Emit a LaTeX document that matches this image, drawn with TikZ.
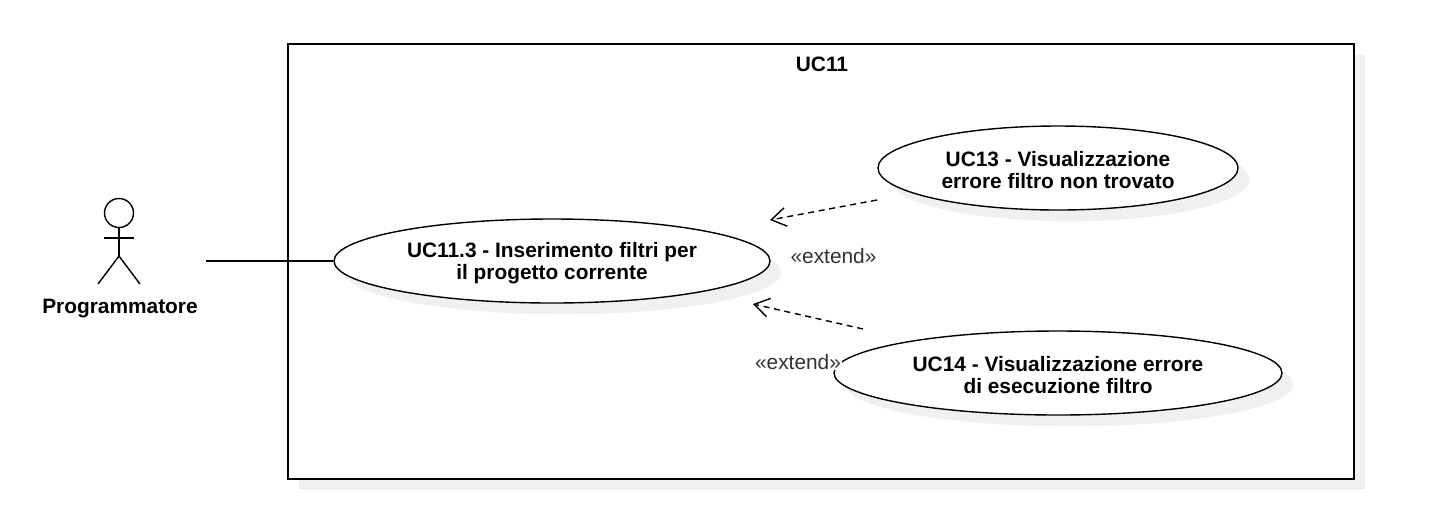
\documentclass[tikz,border=0pt]{standalone}
\usepackage{fontspec}
\setmainfont{Liberation Sans}
\usetikzlibrary{shapes.geometric,shadows,arrows.meta}
\newcommand{\firstline}{\rule{0pt}{14.6pt}}

\begin{document}
\begin{tikzpicture}[
    x=0.75pt, y=-0.75pt,
    every node/.style={font=\fontsize{15.65}{16.3}\selectfont},
    softshadow/.style={drop shadow={shadow xshift=8.5pt, shadow yshift=-8.5pt, fill=black!6, opacity=1}},
    usecase/.style={ellipse, draw, line width=1.05pt, fill=white, softshadow, inner sep=0pt, minimum height=63pt, align=center, font=\fontsize{15.65}{16.3}\selectfont\bfseries},
    extendlabel/.style={text=black!80, fill=white, inner sep=0.5pt},
    extendline/.style={line width=1.05pt, dash pattern=on 4.5pt off 3.5pt, -{Straight Barb[length=11pt, width=14pt, line width=1.05pt]}},
    actorline/.style={line width=1.05pt}
]
\useasboundingbox (0,0) rectangle (1452,526);

\node[draw, line width=1.05pt, fill=white, softshadow, minimum width=799.5pt, minimum height=326.25pt, inner sep=0pt] (system) at (821,261.5) {};
\node[font=\fontsize{15.65}{16.3}\selectfont\bfseries] (title) at (822,64) {UC11};

\node[usecase, minimum width=327pt] (filtri) at (552,261) {\firstline UC11.3 - Inserimento filtri per\\il progetto corrente};
\node[usecase, minimum width=270pt] (nontrovato) at (1058,168) {\firstline UC13 - Visualizzazione\\errore filtro non trovato};
\node[usecase, minimum width=336pt] (esecuzione) at (1058,373) {\firstline UC14 - Visualizzazione errore\\di esecuzione filtro};

% actor
\node[circle, draw, actorline, minimum size=21.75pt, inner sep=0pt] (head) at (119,213) {};
\coordinate (hip) at (119,256);
\coordinate (armleft) at (104,238);
\coordinate (armright) at (134,238);
\coordinate (legleft) at (98,284);
\coordinate (legright) at (140,284);
\draw[actorline] (head.south) -- (hip);
\draw[actorline] (armleft) -- (armright);
\draw[actorline] (legleft) -- (hip) -- (legright);
\node[font=\fontsize{15.65}{16.3}\selectfont\bfseries] (programmatore) at (120,308.5) {Programmatore};

\coordinate (actorend) at (206,261);
\draw[line width=1.05pt] (actorend) -- (filtri.west);

\coordinate (tipup) at (770,220);
\coordinate (tailup) at (877,200);
\coordinate (tipdown) at (753,304);
\coordinate (taildown) at (863,329);
\draw[extendline] (tailup) -- (tipup);
\draw[extendline] (taildown) -- (tipdown);

\node[extendlabel] (extendup) at (833.5,256) {«extend»};
\node[extendlabel] (extenddown) at (798,362) {«extend»};

\end{tikzpicture}
\end{document}
